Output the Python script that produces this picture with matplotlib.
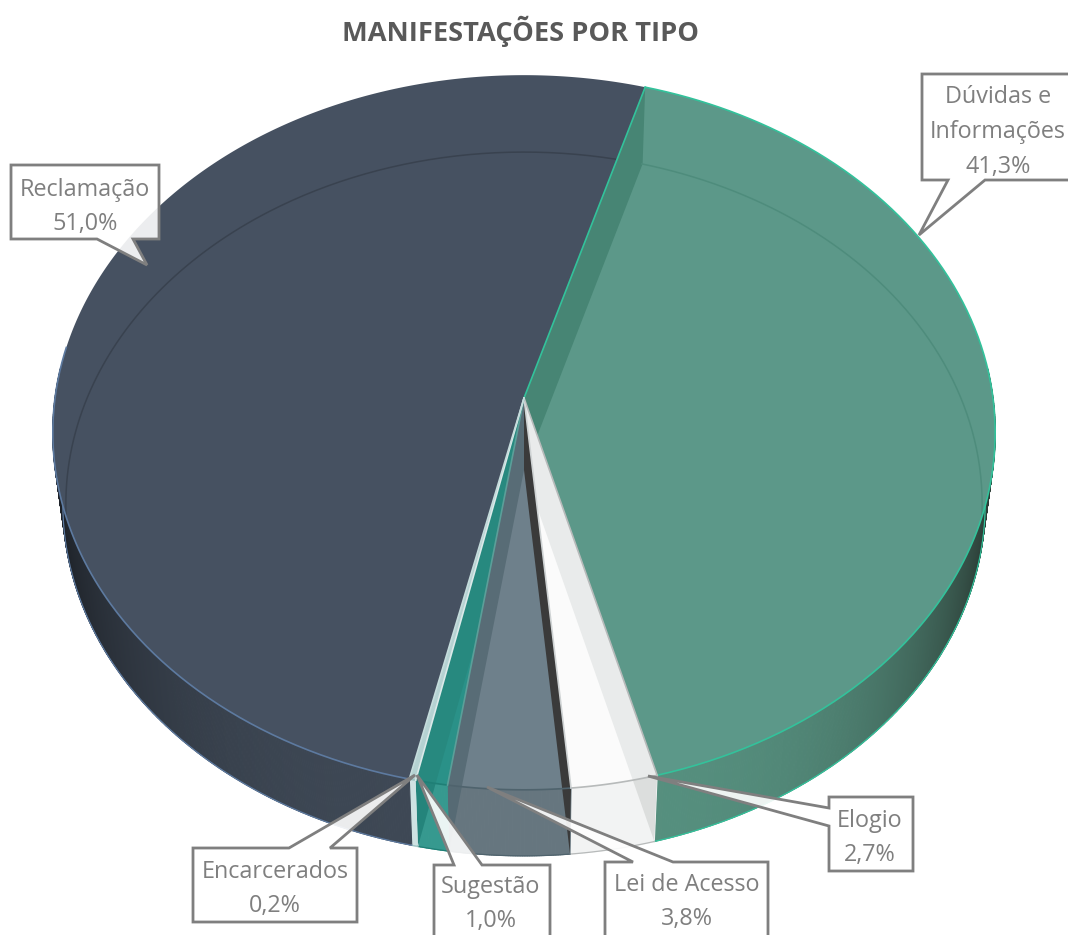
# -*- coding: utf-8 -*-
import numpy as np
from matplotlib import pyplot as plt
from matplotlib.collections import PolyCollection
from matplotlib.patches import Polygon

plt.rcParams['font.family'] = ['Open Sans', 'DejaVu Sans']

title = 'MANIFESTAÇÕES POR TIPO'
names = ['Dúvidas e\nInformações', 'Elogio', 'Lei de Acesso', 'Sugestão', 'Encarcerados', 'Reclamação']
values = [41.3, 2.7, 3.8, 1.0, 0.2, 51.0]
value_labels = ['41,3%', '2,7%', '3,8%', '1,0%', '0,2%', '51,0%']

first_angle = 16.4  # graus, sentido horario a partir do topo

top_colors = ['#5c9889', '#fbfbfb', '#6e808b', '#2a9188', '#b5d2d2', '#465161']
edge_colors = ['#33c29b', '#b7baba', '#4f636d', '#1f7f76', '#9fc4c4', '#5d7aa0']
# cor da parede frontal: claro (centro) -> escuro (lateral)
front_light = ['#56907f', '#f2f3f3', '#66767f', '#36998f', '#cfe2e2', '#3e4855']
front_dark = ['#27352f', '#e6e7e7', '#5c6c75', '#36998f', '#cfe2e2', '#1c2026']

# caixas dos rotulos: x0, x1, y0, y1 e rabicho (p1, ponta, p2)
boxes = [
    (922, 1072, 74, 180, (948, 180), (919, 235), (985, 180)),
    (829, 913, 797, 871, (829, 826), (648, 776), (829, 808)),
    (605, 768, 862, 945, (633, 862), (487, 787), (673, 862)),
    (434, 550, 865, 945, (454, 865), (417, 775), (482, 865)),
    (193, 357, 848, 922, (289, 848), (415, 775), (330, 848)),
    (11, 159, 165, 239, (97, 239), (147, 265), (133, 239)),
]
text_pos = [(998, 132), (870, 838), (687, 902), (491, 904), (275, 889), (85, 207)]

CX = 524
PERSP = 0.0965
TOP = (398, 354, 469)    # y do centro, raio y, raio x
LOW = (470, 348.6, 459)
ARC = (470, 348.6, 456)


def project(theta, plane):
    t = np.radians(theta)
    d = 1 + PERSP * np.cos(t)
    return np.column_stack([CX + plane[2] * np.sin(t) / d, plane[0] - plane[1] * np.cos(t) / d])


def lerp_color(c1, c2, f):
    a = np.array(plt.matplotlib.colors.to_rgb(c1))
    b = np.array(plt.matplotlib.colors.to_rgb(c2))
    return tuple(a + (b - a) * f)


fig = plt.figure(figsize=(10.68, 9.35), dpi=100)
ax = fig.add_axes([0, 0, 1, 1])
ax.set_xlim(0, 1068)
ax.set_ylim(935, 0)
ax.axis('off')

edges = first_angle + np.concatenate([[0], np.cumsum(values)]) / sum(values) * 360
top_patches = []
front_patches = []

# paredes frontais
for i in range(len(values)):
    th = np.linspace(edges[i], edges[i + 1], max(2, int(edges[i + 1] - edges[i]) * 4))
    th_vis = th[(np.mod(th, 360) > 85) & (np.mod(th, 360) < 275)]
    if len(th_vis) < 2:
        top_patches.append(None)
        front_patches.append(None)
        continue
    up = project(th_vis, TOP)
    lo = project(th_vis, LOW)
    quads = []
    cols = []
    for k in range(len(th_vis) - 1):
        quads.append([up[k], up[k + 1], lo[k + 1], lo[k]])
        f = min(abs(np.sin(np.radians(th_vis[k]))) ** 3.5, 1)
        cols.append(lerp_color(front_light[i], front_dark[i], f))
    ax.add_collection(PolyCollection(quads, facecolors=cols, edgecolors=cols, linewidths=0.8, zorder=1))
    front = Polygon(np.vstack([up, lo[::-1]]), closed=True, fc='none', ec='none', zorder=1)
    ax.add_patch(front)
    front_patches.append(front)
    ax.plot(lo[:, 0], lo[:, 1], color=edge_colors[i], lw=0.9, zorder=2)
    top_patches.append(None)

# superficie superior
for i in range(len(values)):
    th = np.linspace(edges[i], edges[i + 1], max(2, int(edges[i + 1] - edges[i]) * 2))
    rim = project(th, TOP)
    pts = np.vstack([[CX, TOP[0]], rim])
    p = Polygon(pts, closed=True, fc=top_colors[i], ec='none', zorder=3)
    ax.add_patch(p)
    top_patches[i] = p


def radial_wall(angle_index, slice_index, color_top, color_front):
    a = edges[angle_index]
    rim_up = project(np.array([a]), TOP)[0]
    rim_lo = project(np.array([a]), LOW)[0]
    quad = [[CX, TOP[0]], rim_up, rim_lo, [CX, LOW[0]]]
    w = Polygon(quad, closed=True, fc=color_top, ec='none', zorder=4)
    ax.add_patch(w)
    w.set_clip_path(top_patches[slice_index])
    if front_patches[slice_index] is not None and color_front:
        w2 = Polygon(quad, closed=True, fc=color_front, ec='none', zorder=2)
        ax.add_patch(w2)
        w2.set_clip_path(front_patches[slice_index])


radial_wall(0, 0, '#478574', None)
radial_wall(1, 1, '#e9ebeb', '#dcdedd')
radial_wall(2, 2, '#3a3a3a', '#3a3a3a')
radial_wall(3, 2, '#586c76', '#566a74')
radial_wall(4, 3, '#27897f', '#24847b')

# arco interno (fundo visto pela transparencia)
for i, col in [(0, '#4e8c7c'), (5, '#39424f')]:
    th = np.linspace(edges[i], edges[i + 1], 300)
    m = np.cos(np.radians(th)) > -0.3
    arc = project(th[m], ARC)
    line, = ax.plot(arc[:, 0], arc[:, 1], color=col, lw=1.1, zorder=5)
    line.set_clip_path(top_patches[i])

# contornos: na parte de tras o contorno quase nao aparece
for i in range(len(values)):
    th = np.linspace(edges[i], edges[i + 1], max(2, int(edges[i + 1] - edges[i]) * 2))
    if i == 5:
        th = th[np.cos(np.radians(th)) < 0.15]
    rim = project(th, TOP)
    ax.plot(rim[:, 0], rim[:, 1], color=edge_colors[i], lw=1.2, zorder=6)
for i, col in [(0, '#33c29b'), (1, '#b7baba'), (2, '#cfd3d4'), (3, '#5b9f99'), (4, '#dbe9e9'), (5, '#c5dcdc')]:
    p = project(np.array([edges[i]]), TOP)[0]
    ax.plot([CX, p[0]], [TOP[0], p[1]], color=col, lw=1.2, zorder=6)

# rotulos
for i in range(len(names)):
    x0, x1, y0, y1, t1, tip, t2 = boxes[i]
    # insere o rabicho no lado certo da caixa
    if t1[1] == y0 and t2[1] == y0:
        pts = [(x0, y0), t1, tip, t2, (x1, y0), (x1, y1), (x0, y1)]
    elif t1[1] == y1 and t2[1] == y1:
        pts = [(x0, y0), (x1, y0), (x1, y1), t2, tip, t1, (x0, y1)]
    else:
        pts = [(x0, y0), (x1, y0), (x1, y1), (x0, y1), t1, tip, t2]
    ax.add_patch(Polygon(pts, closed=True, fc=(1, 1, 1, 0.9), ec='#7f7f7f', lw=2.0, joinstyle='miter', zorder=8))
    ax.text(text_pos[i][0], text_pos[i][1], names[i] + '\n' + value_labels[i], ha='center', va='center',
            fontsize=16.8, color='#7f7f7f', linespacing=1.6, zorder=9)

ax.text(521, 31, title, ha='center', va='center', fontsize=19.6, fontweight='bold', color='#595959')

fig.savefig('out.png', dpi=100)
